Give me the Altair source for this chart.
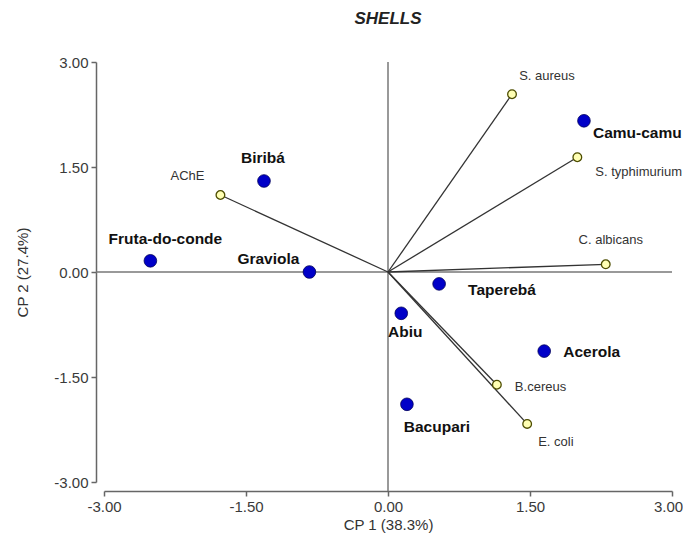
import altair as alt
import pandas as pd

# Fruit scores (blue points)
fruit_names = ["Fruta-do-conde", "Biribá", "Graviola", "Camu-camu", "Taperebá", "Abiu", "Acerola", "Bacupari"]
fruit_x = [-2.51, -1.31, -0.83, 2.07, 0.54, 0.14, 1.65, 0.20]
fruit_y = [0.16, 1.30, 0.00, 2.16, -0.17, -0.59, -1.13, -1.89]

# Variable loadings (yellow open circles with vectors)
var_names = ["S. aureus", "S. typhimurium", "C. albicans", "AChE", "B.cereus", "E. coli"]
var_x = [1.31, 2.00, 2.30, -1.77, 1.15, 1.47]
var_y = [2.54, 1.64, 0.11, 1.10, -1.61, -2.17]

# Label placement (pixel offsets, alignment) - styling only
fruit_label_pos = [(15, -22, "center"), (-1, -23, "center"), (-41, -13, "center"), (9, 12, "left"),
                   (29, 6, "left"), (4, 19, "center"), (19, 1, "left"), (30, 23, "center")]
var_label_pos = [(35, -18, "center"), (18, 15, "left"), (5, -24, "center"), (-33, -19, "center"),
                 (18, 2, "left"), (11, 18, "left")]

tick_values = [-3.0, -1.5, 0.0, 1.5, 3.0]

fruits = pd.DataFrame({"name": fruit_names, "x": fruit_x, "y": fruit_y})
variables = pd.DataFrame({"name": var_names, "x": var_x, "y": var_y})
zero = pd.DataFrame({"z": [0.0]})

FONT = "Liberation Sans"
xs = alt.Scale(domain=[-3, 3], nice=False, zero=False)
ys = alt.Scale(domain=[-3, 3], nice=False, zero=False)

LABEL_EXPR = "replace(format(datum.value, '.2f'), '\u2212', '-')"

common_axis = dict(values=tick_values, labelExpr=LABEL_EXPR, grid=False, tickSize=5, labelPadding=3,
                   domainColor="#666666", domainWidth=1.5, tickColor="#666666", tickWidth=1.5,
                   labelFont=FONT, labelFontSize=15, labelColor="#3a3a3a", labelFlush=False,
                   titleFont=FONT, titleFontSize=15, titleFontWeight="normal", titleColor="#333333")
xa = alt.Axis(offset=9, titlePadding=3,
              labelOffset={"condition": {"test": "datum.value >= 3", "value": -4}, "value": 0},
              **common_axis)
ya = alt.Axis(offset=8, titlePadding=23, **common_axis)

XT = "CP 1 (38.3%)"
YT = "CP 2 (27.4%)"


def X(f):
    return alt.X(f, type="quantitative", scale=xs, axis=xa, title=XT)


def Y(f):
    return alt.Y(f, type="quantitative", scale=ys, axis=ya, title=YT)


hline = alt.Chart(zero).mark_rule(color="#777777", strokeWidth=1.5).encode(
    y=Y("z"), x=alt.value(-8), x2=alt.value(568))
vline = alt.Chart(zero).mark_rule(color="#777777", strokeWidth=1.5).encode(
    x=X("z"), y=alt.value(0), y2=alt.value(429))

vectors = alt.Chart(variables).mark_rule(color="#333333", strokeWidth=1.3).encode(
    x=X("x"), y=Y("y"), x2=alt.X2Datum(0), y2=alt.Y2Datum(0))
var_pts = alt.Chart(variables).mark_point(shape="circle", filled=True, fill="#ffffb3",
                                          stroke="#4d4d00", strokeWidth=1.3, size=75, opacity=1).encode(
    x=X("x"), y=Y("y"))
fruit_pts = alt.Chart(fruits).mark_point(shape="circle", filled=True, fill="#0000c8",
                                         stroke="#00005a", strokeWidth=0.8, size=160, opacity=1).encode(
    x=X("x"), y=Y("y"))

layers = [hline, vline, vectors, var_pts, fruit_pts]

for name, (dx, dy, al) in zip(fruit_names, fruit_label_pos):
    layers.append(alt.Chart(fruits).transform_filter(alt.datum.name == name).mark_text(
        dx=dx, dy=dy, align=al, baseline="middle", font=FONT, fontSize=15.5, fontWeight="bold",
        color="#111111").encode(x=X("x"), y=Y("y"), text="name:N"))

for name, (dx, dy, al) in zip(var_names, var_label_pos):
    layers.append(alt.Chart(variables).transform_filter(alt.datum.name == name).mark_text(
        dx=dx, dy=dy, align=al, baseline="middle", font=FONT, fontSize=13, fontWeight="normal",
        color="#333333").encode(x=X("x"), y=Y("y"), text="name:N"))

chart = alt.layer(*layers).properties(
    width=568, height=420,
    title=alt.TitleParams("SHELLS", font=FONT, fontSize=17, fontStyle="italic", fontWeight="bold",
                          color="#222222", anchor="middle", offset=27),
    autosize=alt.AutoSizeParams(type="none"),
    padding={"left": 96, "top": 54, "right": 11, "bottom": 55},
).configure_view(stroke=None)

chart.save("out.html", embed_options={"renderer": "svg", "actions": False})
